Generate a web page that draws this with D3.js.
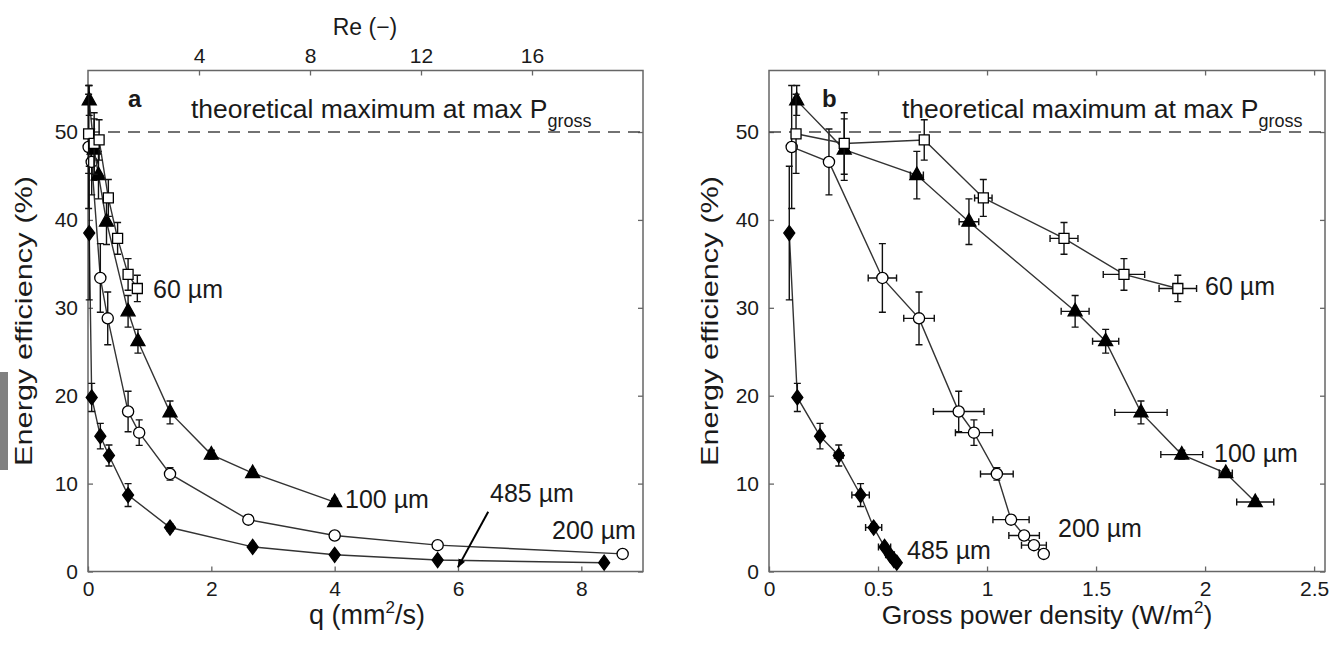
<!DOCTYPE html>
<html><head><meta charset="utf-8">
<script src="https://cdn.jsdelivr.net/npm/d3@7"></script>
<style>body{margin:0;background:#fff}svg{display:block}text{font-family:"Liberation Sans",Arial,sans-serif}</style>
</head><body><svg id="c" width="1335" height="645"></svg>
<script>
// ---------- data ----------
// energy efficiency (%) per channel size, shared by both panels
const eff60  = [49.8, 48.7, 49.1, 42.5, 37.9, 33.8, 32.2];
const eff100 = [53.6, 48.0, 45.1, 39.8, 29.6, 26.2, 18.1, 13.3, 11.2, 7.9];
const eff200 = [48.3, 46.6, 33.4, 28.8, 18.2, 15.8, 11.1, 5.9, 4.1, 3.0, 2.0];
const eff485 = [38.5, 19.8, 15.4, 13.2, 8.7, 5.0, 2.8, 1.9, 1.3, 1.0];
// y error (%)
const err60  = [4.5, 3.5, 2.3, 2.1, 1.8, 1.8, 1.5];
const err100 = [1.7, 3.5, 2.7, 2.6, 1.8, 1.35, 1.3, 0.5, 0.4, 0.4];
const err200 = [7.0, 3.75, 3.9, 3.0, 2.3, 1.45, 0.7, 0.5, 0.4, 0.3, 0.3];
const err485 = [7.6, 1.6, 1.45, 1.2, 1.3, 0.4, 0.4, 0.3, 0.3, 0.3];
// panel a: flow q (mm2/s)
const q60  = [0.01, 0.10, 0.18, 0.33, 0.48, 0.65, 0.80];
const q100 = [0.02, 0.10, 0.17, 0.30, 0.65, 0.81, 1.33, 2.0, 2.67, 4.0];
const q200 = [0.01, 0.06, 0.20, 0.32, 0.65, 0.83, 1.33, 2.6, 4.0, 5.67, 8.67];
const q485 = [0.02, 0.06, 0.20, 0.34, 0.65, 1.33, 2.67, 4.0, 5.67, 8.37];
// panel b: gross power density (W/m2) and its error
const p60  = [0.124, 0.345, 0.712, 0.983, 1.353, 1.628, 1.875];
const p100 = [0.127, 0.345, 0.678, 0.917, 1.404, 1.544, 1.706, 1.893, 2.095, 2.23];
const p200 = [0.104, 0.275, 0.52, 0.688, 0.87, 0.94, 1.045, 1.11, 1.17, 1.215, 1.26];
const p485 = [0.093, 0.13, 0.234, 0.32, 0.42, 0.48, 0.53, 0.555, 0.573, 0.586];
const pe60  = [0.01, 0.02, 0.02, 0.04, 0.064, 0.095, 0.086];
const pe100 = [0.01, 0.02, 0.03, 0.045, 0.064, 0.06, 0.12, 0.096, 0.03, 0.085];
const pe200 = [0.01, 0.02, 0.065, 0.07, 0.116, 0.085, 0.075, 0.083, 0.07, 0.057, 0.02];
const pe485 = [0.005, 0.01, 0.015, 0.02, 0.04, 0.037, 0.028, 0.02, 0.015, 0.01];
// ticks
const yTicks = [0, 10, 20, 30, 40, 50];
const qTicks = [0, 2, 4, 6, 8];
const reTicks = [4, 8, 12, 16];
const pTicks = [0, 0.5, 1, 1.5, 2, 2.5];
const theoMax = 50;

// ---------- drawing ----------
const svg = d3.select('#c');
svg.append('rect').attr('width',1335).attr('height',645).attr('fill','#fff');
svg.append('rect').attr('x',0).attr('y',372).attr('width',8).attr('height',98).attr('fill','#808080');

const y = d3.scaleLinear().domain([0,57]).range([571.5,70.5]);
const xA = d3.scaleLinear().domain([0,9]).range([88,643]);
const reA = d3.scaleLinear().domain([0,20]).range([88,643]);
const xB = d3.scaleLinear().domain([0,2.55]).range([769,1325]);

const AX = '#666', TXT = '#1a1a1a';
function styleAxis(g){
  g.select('.domain').remove();
  g.selectAll('.tick line').attr('stroke',AX).attr('stroke-width',1.3);
  g.selectAll('.tick text').attr('font-size',21).attr('fill',TXT).attr('font-family','"Liberation Sans",Arial,sans-serif');
}
const fmt = d3.format('~g');

function frame(x, xt, topAxis){
  const [x0,x1] = x.range(), [y0,y1] = y.range();
  const g = svg.append('g');
  g.append('g').attr('transform',`translate(0,${y0})`)
    .call(d3.axisBottom(x).tickValues(xt).tickSizeInner(-5).tickSizeOuter(0).tickPadding(10).tickFormat(fmt)).call(styleAxis);
  g.append('g').attr('transform',`translate(${x0},0)`)
    .call(d3.axisLeft(y).tickValues(yTicks).tickSizeInner(-5).tickSizeOuter(0).tickPadding(10).tickFormat(fmt)).call(styleAxis);
  g.append('g').attr('transform',`translate(${x1},0)`)
    .call(d3.axisRight(y).tickValues(yTicks).tickSizeInner(-5).tickSizeOuter(0).tickFormat('')).call(styleAxis);
  g.append('g').attr('transform',`translate(0,${y1})`).call(topAxis).call(styleAxis);
  g.append('rect').attr('x',x0).attr('y',y1).attr('width',x1-x0).attr('height',y0-y1)
    .attr('fill','none').attr('stroke',AX).attr('stroke-width',1.5);
  g.append('line').attr('x1',x0).attr('x2',x1).attr('y1',y(theoMax)).attr('y2',y(theoMax))
    .attr('stroke','#444').attr('stroke-width',1.6).attr('stroke-dasharray','12,8');
  return g;
}

frame(xA, qTicks, d3.axisTop(reA).tickValues(reTicks).tickSizeInner(-5).tickSizeOuter(0).tickPadding(8).tickFormat(fmt));
frame(xB, pTicks, d3.axisTop(xB).tickValues(pTicks.slice(1)).tickSizeInner(-5).tickSizeOuter(0).tickFormat(''));

const shapes = {
  square: {d:'M-5,-5H5V5H-5Z', fill:'#fff'},
  circle: {d:d3.symbol(d3.symbolCircle, Math.PI*5.6*5.6)(), fill:'#fff'},
  triangle:{d:'M0,-8L7,4.5L-7,4.5Z', fill:'#000'},
  diamond:{d:'M0,-7.5L5.5,0L0,7.5L-5.5,0Z', fill:'#000'}
};

function series(x, xs, ys, yerr, xerr, shape){
  const g = svg.append('g');
  const pts = xs.map((v,i)=>({x:v, y:ys[i], ye:yerr[i], xe: xerr ? xerr[i] : 0}));
  g.append('path').datum(pts).attr('fill','none').attr('stroke','#333').attr('stroke-width',1.4)
    .attr('d', d3.line().x(d=>x(d.x)).y(d=>y(d.y)));
  const cap = 3.5;
  const eb = g.append('g').attr('stroke','#111').attr('stroke-width',1.4).attr('fill','none');
  pts.forEach(d=>{
    const cx = x(d.x), t = y(d.y+d.ye), b = y(d.y-d.ye);
    eb.append('path').attr('d',`M${cx},${t}V${b}M${cx-cap},${t}H${cx+cap}M${cx-cap},${b}H${cx+cap}`);
    if (xerr){
      const l = x(d.x-d.xe), r = x(d.x+d.xe), cy = y(d.y);
      eb.append('path').attr('d',`M${l},${cy}H${r}M${l},${cy-cap}V${cy+cap}M${r},${cy-cap}V${cy+cap}`);
    }
  });
  g.selectAll('.m').data(pts).enter().append('path')
    .attr('d', shapes[shape].d).attr('transform', d=>`translate(${x(d.x)},${y(d.y)})`)
    .attr('fill', shapes[shape].fill).attr('stroke','#000').attr('stroke-width',1.3);
}

// panel a
series(xA, q485, eff485, err485, null, 'diamond');
series(xA, q200, eff200, err200, null, 'circle');
series(xA, q100, eff100, err100, null, 'triangle');
series(xA, q60,  eff60,  err60,  null, 'square');
// panel b
series(xB, p485, eff485, err485, pe485, 'diamond');
series(xB, p200, eff200, err200, pe200, 'circle');
series(xB, p100, eff100, err100, pe100, 'triangle');
series(xB, p60,  eff60,  err60,  pe60,  'square');

// ---------- text ----------
function txt(x, yy, s, size, opts={}){
  const t = svg.append('text').attr('x',x).attr('y',yy).attr('font-size',size).attr('fill',TXT).text(s);
  if (opts.anchor) t.attr('text-anchor',opts.anchor);
  if (opts.bold) t.attr('font-weight','bold');
  return t;
}
// titles / axis labels
txt(365, 35, 'Re (\u2212)', 23, {anchor:'middle'});
let t = txt(367, 624, 'q (mm', 27, {anchor:'middle'});
t.append('tspan').attr('dy',-11).attr('font-size',17).text('2');
t.append('tspan').attr('dy',11).text('/s)');
t = txt(1047, 624, 'Gross power density (W/m', 26.5, {anchor:'middle'});
t.append('tspan').attr('dy',-11).attr('font-size',17).text('2');
t.append('tspan').attr('dy',11).text(')');
[[32, 321],[718, 321]].forEach(([bx,cy])=>{
  svg.append('text').attr('transform',`translate(${bx},${cy}) rotate(-90)`).attr('text-anchor','middle')
    .attr('font-size',24).attr('fill',TXT).attr('textLength',290).attr('lengthAdjust','spacingAndGlyphs')
    .text('Energy efficiency (%)');
});
// panel letters
txt(128, 107, 'a', 24, {bold:true});
txt(822, 107, 'b', 24, {bold:true});
// theoretical maximum
[191, 902].forEach(x0=>{
  const tt = txt(x0, 118, 'theoretical maximum at max P', 26.5);
  tt.append('tspan').attr('dy',9).attr('font-size',18).text('gross');
});
// series labels panel a
txt(153, 298, '60 \u00b5m', 25);
txt(345, 508, '100 \u00b5m', 25);
txt(490, 502, '485 \u00b5m', 25);
txt(552, 539, '200 \u00b5m', 25);
// arrow panel a
svg.append('defs').append('marker').attr('id','ah').attr('viewBox','0 0 10 10').attr('refX',9).attr('refY',5)
  .attr('markerWidth',9).attr('markerHeight',9).attr('orient','auto').attr('markerUnits','userSpaceOnUse')
  .append('path').attr('d','M0,1L10,5L0,9Z').attr('fill','#000');
svg.append('line').attr('x1',xA(6.49)).attr('y1',y(6.8)).attr('x2',xA(6.0)).attr('y2',y(0.5))
  .attr('stroke','#000').attr('stroke-width',2).attr('marker-end','url(#ah)');
// series labels panel b
txt(1205, 295, '60 \u00b5m', 25);
txt(1214, 462, '100 \u00b5m', 25);
txt(1058, 537, '200 \u00b5m', 25);
txt(907, 559, '485 \u00b5m', 25);
</script></body></html>
